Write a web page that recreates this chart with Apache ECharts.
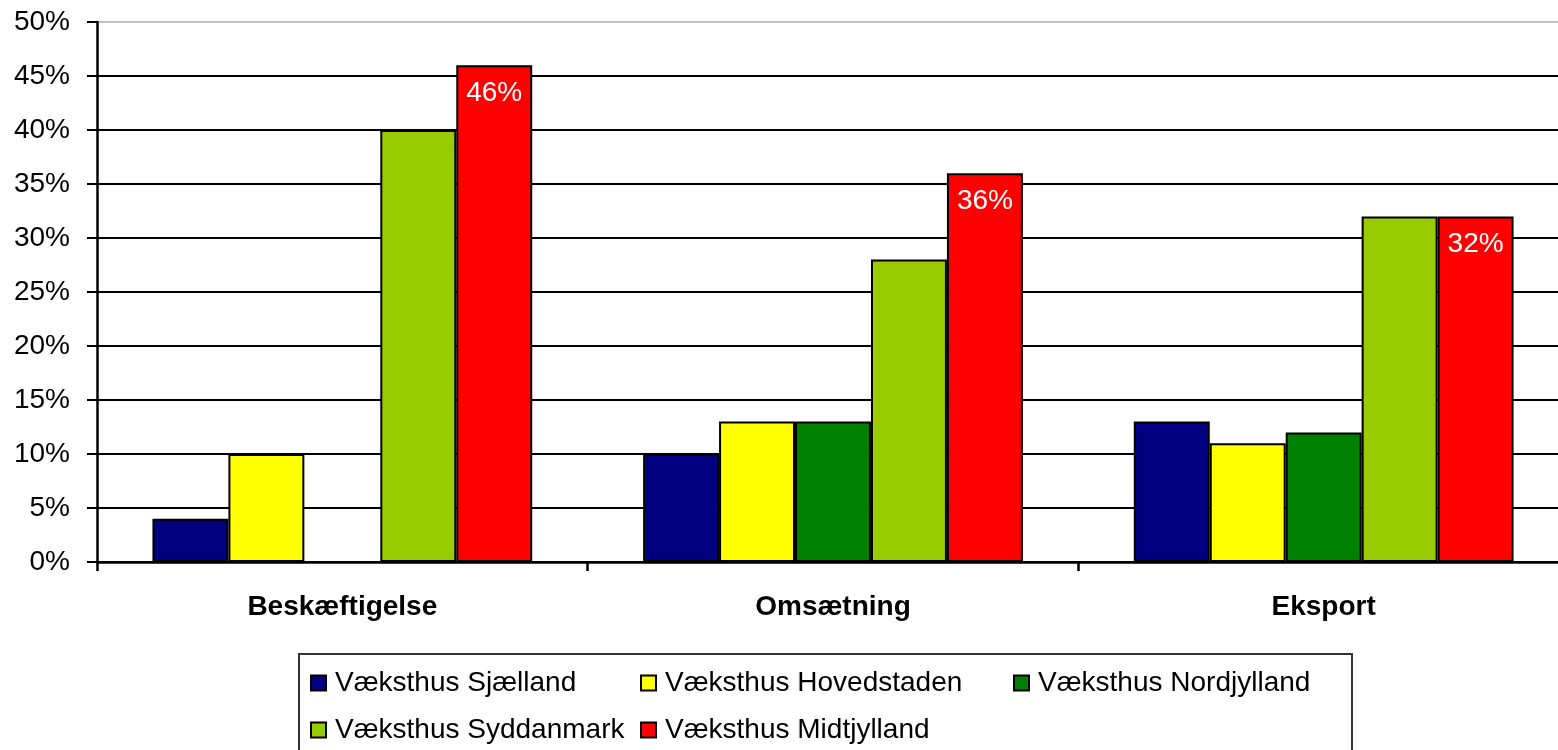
<!DOCTYPE html>
<html>
<head>
<meta charset="utf-8">
<script src="https://cdn.jsdelivr.net/npm/echarts@6/dist/echarts.min.js"></script>
<style>html,body{margin:0;padding:0;background:#fff;overflow:hidden}#c{width:1575px;height:750px}</style>
</head>
<body>
<div id="c"></div>
<script>
const categories = ['Beskæftigelse', 'Omsætning', 'Eksport'];
const seriesNames = ['Væksthus Sjælland', 'Væksthus Hovedstaden', 'Væksthus Nordjylland', 'Væksthus Syddanmark', 'Væksthus Midtjylland'];
const sjaelland = [4, 10, 13];
const hovedstaden = [10, 13, 11];
const nordjylland = [null, 13, 12];
const syddanmark = [40, 28, 32];
const midtjylland = [46, 36, 32];
const yTicks = [0, 5, 10, 15, 20, 25, 30, 35, 40, 45, 50];

const values = [sjaelland, hovedstaden, nordjylland, syddanmark, midtjylland];
const colors = ['#000080', '#ffff00', '#008000', '#99cc00', '#ff0000'];
const legendPos = [[310, 667], [640, 667], [1013, 667], [310, 714], [640, 714]];

const chart = echarts.init(document.getElementById('c'));
const font = 'Liberation Sans, Arial, sans-serif';

const series = seriesNames.map((n, i) => ({
  name: n,
  type: 'bar',
  data: values[i],
  barGap: '0%',
  barCategoryGap: '22.6%',
  itemStyle: { color: colors[i], borderColor: '#000', borderWidth: 2 },
  label: i === 4 ? {
    show: true, position: 'insideTop', distance: 14,
    color: '#fff', fontSize: 28, fontFamily: font, formatter: '{c}%'
  } : { show: false },
  emphasis: { disabled: true },
  animation: false
}));

const splitColors = yTicks.map((t, i) => i === yTicks.length - 1 ? '#c0c0c0' : '#000');

chart.setOption({
  animation: false,
  textStyle: { fontFamily: font },
  grid: { left: 97, top: 22, width: 1472, height: 540, containLabel: false, outerBoundsMode: 'none' },
  xAxis: {
    type: 'category',
    data: categories,
    axisLine: { lineStyle: { color: '#000', width: 2.5 } },
    axisTick: { show: true, length: 9, lineStyle: { color: '#000', width: 2.5 } },
    axisLabel: { color: '#000', fontSize: 28, fontWeight: 'bold', fontFamily: font, margin: 31 },
    splitLine: { show: false }
  },
  yAxis: {
    type: 'value',
    min: 0, max: 50, interval: 5,
    axisLine: { show: true, lineStyle: { color: '#000', width: 2.5 } },
    axisTick: { show: true, length: 10, lineStyle: { color: '#000', width: 2 } },
    axisLabel: { color: '#000', fontSize: 28, fontFamily: font, margin: 27, formatter: '{value}%' },
    splitLine: { show: true, lineStyle: { color: splitColors, width: 2 } }
  },
  legend: seriesNames.map((n, i) => ({
    data: [n],
    left: legendPos[i][0],
    top: legendPos[i][1],
    padding: 0,
    icon: 'rect',
    itemWidth: 15,
    itemHeight: 15,
    selectedMode: false,
    textStyle: { color: '#000', fontSize: 28, fontFamily: font, lineHeight: 32, padding: [0, 0, 0, 4] }
  })),
  graphic: [{
    type: 'rect',
    shape: { x: 299, y: 654, width: 1053, height: 110 },
    style: { fill: 'none', stroke: '#333', lineWidth: 2 },
    silent: true
  }],
  series: series
});
</script>
</body>
</html>
